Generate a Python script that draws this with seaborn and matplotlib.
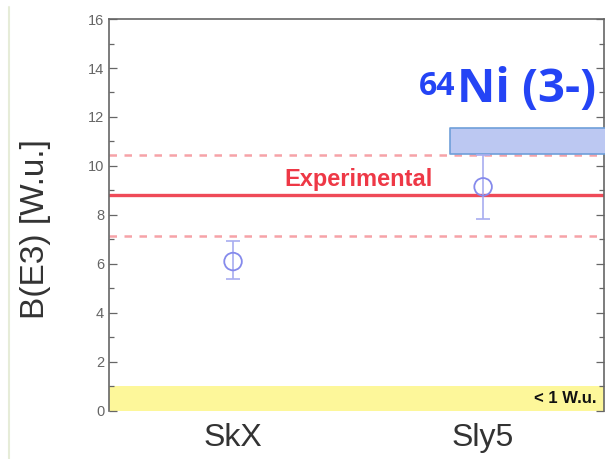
import matplotlib
matplotlib.use("Agg")
import matplotlib.pyplot as plt
import matplotlib.lines as mlines
import seaborn as sns
import pandas as pd
import numpy as np

# ---- data ----
models = ["SkX", "Sly5"]
be3_values = [6.1, 9.15]
err_low = [0.7, 1.3]
err_high = [0.85, 1.3]
exp_value = 8.82
exp_low = 7.15
exp_high = 10.45
limit_value = 1.0
box_low = 10.5
box_high = 11.55
yticks = [0, 2, 4, 6, 8, 10, 12, 14, 16]

sns.set_theme(style="white")
plt.rcParams["font.family"] = ["Liberation Sans", "DejaVu Sans"]

fig = plt.figure(figsize=(6.09, 4.59), dpi=100)
ax = fig.add_axes([0.179, 0.1046, 0.813, 0.854])

df = pd.DataFrame({"model": models, "B(E3)": be3_values})

# yellow < 1 W.u. band
ax.axhspan(0, limit_value, color="#fdf79a", zorder=0, lw=0)

# experimental lines
ax.axhline(exp_value, color="#ef4a58", lw=2.4, zorder=2)
ax.axhline(exp_low, color="#f6a3a8", lw=1.8, ls=(0, (3, 3)), zorder=2)
ax.axhline(exp_high, color="#f6a3a8", lw=1.8, ls=(0, (3, 3)), zorder=2)

# blue box
ax.fill_between([0.868, 1.6], box_low, box_high, facecolor="#bcc8f2",
                edgecolor="#6f9fd9", lw=1.2, zorder=3)

# error bars + points
xpos = np.arange(len(models))
ax.errorbar(xpos, be3_values, yerr=[err_low, err_high], fmt="none",
            ecolor="#a8adf0", elinewidth=1.2, capsize=5, capthick=1.2, zorder=4)
sns.scatterplot(data=df, x="model", y="B(E3)", ax=ax, s=160, marker="o",
                facecolors="none", edgecolor="#858aec", linewidth=1.3, zorder=5)

ax.set_xlim(-0.496, 1.484)
ax.set_ylim(0, 16)
ax.set_yticks(yticks)
ax.set_yticks(np.arange(1, 16, 2), minor=True)
ax.set_xticks(xpos)
ax.set_xticklabels(models, fontsize=23, color="#333333")
ax.tick_params(axis="y", which="both", direction="in", left=True, right=True,
               labelsize=10.5, labelcolor="#666666", color="#666666")
ax.tick_params(axis="y", which="major", length=6, width=0.9)
ax.tick_params(axis="y", which="minor", length=3.5, width=0.9)
ax.tick_params(axis="x", length=0, pad=9)
for s in ["left", "top", "right"]:
    ax.spines[s].set_color("#666666")
    ax.spines[s].set_linewidth(1.2)
ax.spines["bottom"].set_visible(False)

ax.set_xlabel("")
ax.set_ylabel("B(E3) [W.u.]", fontsize=24, color="#333333")
ax.yaxis.set_label_coords(-0.118, 0.464)

# texts
ax.text(0.5, 9.45, "Experimental", color="#ee3846", fontsize=17,
        fontweight="bold", ha="center", va="center", zorder=6)
ax.text(1.452, 0.52, "< 1 W.u.", color="#111111", fontsize=12,
        fontweight="bold", ha="right", va="center", zorder=6)
t = ax.text(1.45, 12.6, "Ni (3-)", color="#2444f5", fontsize=34,
            fontweight="bold", ha="right", va="baseline", zorder=6,
            family=["Open Sans", "DejaVu Sans"])
ax.annotate("64", xy=(0, 1), xycoords=t, xytext=(-1, -3),
            textcoords="offset points", ha="right", va="top",
            color="#2444f5", fontsize=23, fontweight="bold",
            family=["Open Sans", "DejaVu Sans"])

# faint left border line
fig.add_artist(mlines.Line2D([0.014, 0.014], [0.0, 0.985], transform=fig.transFigure,
                             color="#e6ecd8", lw=1.5))

fig.savefig("out.png", dpi=100)
